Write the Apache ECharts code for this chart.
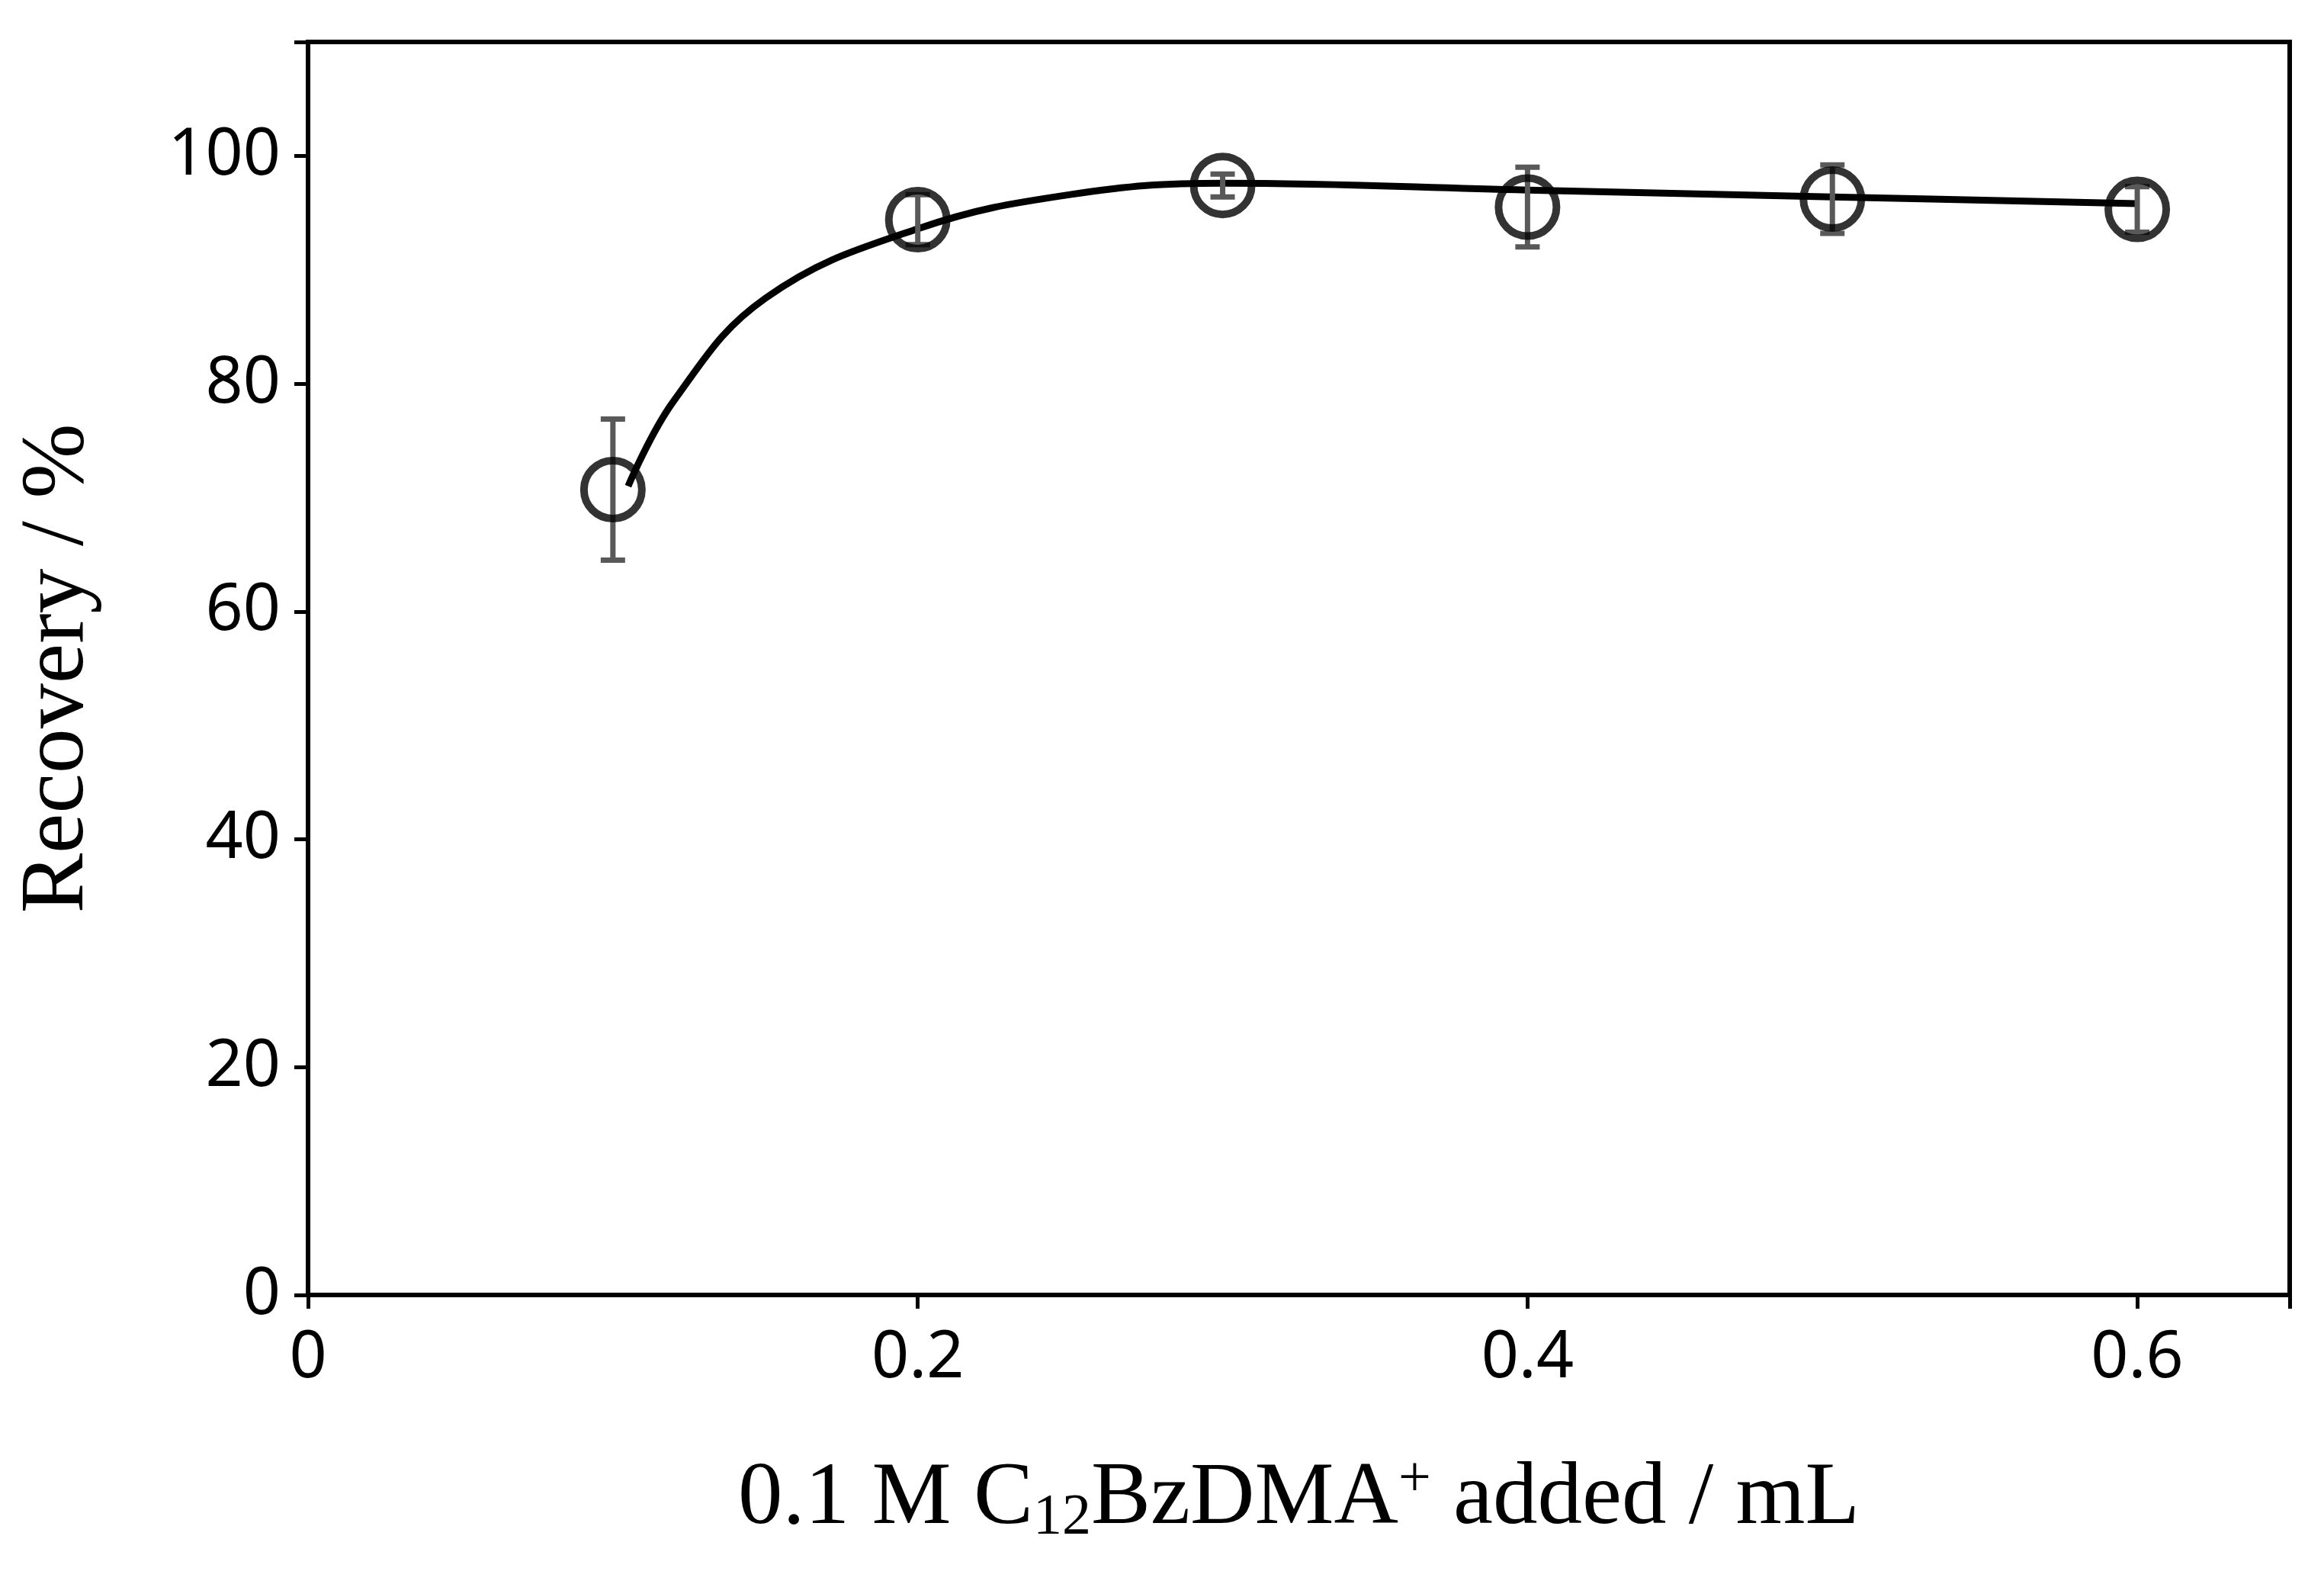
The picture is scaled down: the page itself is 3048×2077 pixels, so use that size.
<!DOCTYPE html>
<html><head><meta charset="utf-8">
<script src="https://cdn.jsdelivr.net/npm/echarts@6/dist/echarts.min.js"></script>
<style>html,body{margin:0;padding:0;background:#fff}#c{width:3048px;height:2077px}</style>
</head><body><div id="c"></div>
<script>
const xValues = [0.1, 0.2, 0.3, 0.4, 0.5, 0.6];
const recovery = [70.7, 94.4, 97.4, 95.5, 96.2, 95.3];
const errors = [6.2, 2.2, 1.0, 3.5, 3.0, 2.0];
const fitX = [0.105, 0.12, 0.15, 0.2, 0.25, 0.3, 0.4, 0.5, 0.6];
const fitY = [71, 78.5, 87.5, 93.6, 96.6, 97.6, 97.0, 96.4, 95.8];
const xTicks = [0, 0.2, 0.4, 0.6];

const pts = xValues.map((x, i) => [x, recovery[i]]);
const errData = xValues.map((x, i) => [x, recovery[i] - errors[i], recovery[i] + errors[i]]);
const fit = fitX.map((x, i) => [x, fitY[i]]);

const chart = echarts.init(document.getElementById('c'));
const tickFont = {fontFamily: 'Noto Sans', fontSize: 86, color: '#000'};
chart.setOption({
  animation: false,
  grid: {left: 404, right: 45, top: 55, bottom: 379, show: true, borderColor: '#000', borderWidth: 6},
  xAxis: {
    type: 'value', min: 0, max: 0.65, interval: 0.2,
    axisLine: {lineStyle: {color: '#000', width: 6}},
    axisTick: {show: true, length: 18, lineStyle: {color: '#000', width: 5}},
    axisLabel: Object.assign({margin: 40, formatter: v => xTicks.includes(+v.toFixed(2)) ? (v === 0 ? '0' : v.toFixed(1)) : ''}, tickFont),
    splitLine: {show: false},
    name: '{a|0.1 M C}{s|12}{a|BzDMA}{p|+}{a| added / mL}',
    nameLocation: 'middle', nameGap: 205,
    nameTextStyle: {rich: {
      a: {fontFamily: 'Liberation Serif', fontSize: 117, color: '#000'},
      s: {fontFamily: 'Liberation Serif', fontSize: 76, color: '#000', verticalAlign: 'bottom', padding: [50, 0, 0, 0]},
      p: {fontFamily: 'Liberation Serif', fontSize: 76, color: '#000', verticalAlign: 'top', padding: [0, 0, 50, 0]}
    }}
  },
  yAxis: {
    type: 'value', min: 0, max: 110, interval: 20,
    axisLine: {show: true, lineStyle: {color: '#000', width: 6}},
    axisTick: {show: true, length: 18, lineStyle: {color: '#000', width: 5}},
    axisLabel: Object.assign({margin: 36, formatter: v => v <= 100 ? String(v) : ''}, tickFont),
    splitLine: {show: false},
    name: 'Recovery / %', nameLocation: 'middle', nameGap: 268,
    nameTextStyle: {fontFamily: 'Liberation Serif', fontSize: 118, color: '#000'}
  },
  series: [{
    type: 'line', data: fit, smooth: 0.4, showSymbol: false,
    lineStyle: {color: '#000', width: 9}, z: 2
  }, {
    type: 'custom', data: errData, z: 3,
    renderItem: (params, api) => {
      const x = api.value(0);
      const lo = api.coord([x, api.value(1)]);
      const hi = api.coord([x, api.value(2)]);
      const w = 16;
      const st = {stroke: '#595959', lineWidth: 7};
      return {type: 'group', children: [
        {type: 'line', shape: {x1: lo[0], y1: lo[1], x2: hi[0], y2: hi[1]}, style: st},
        {type: 'line', shape: {x1: lo[0] - w, y1: lo[1], x2: lo[0] + w, y2: lo[1]}, style: st},
        {type: 'line', shape: {x1: hi[0] - w, y1: hi[1], x2: hi[0] + w, y2: hi[1]}, style: st}
      ]};
    }
  }, {
    type: 'scatter', data: pts, symbol: 'circle', symbolSize: 76, z: 4,
    itemStyle: {color: 'rgba(0,0,0,0)', borderColor: '#000', borderWidth: 10}
  }]
});
</script></body></html>
